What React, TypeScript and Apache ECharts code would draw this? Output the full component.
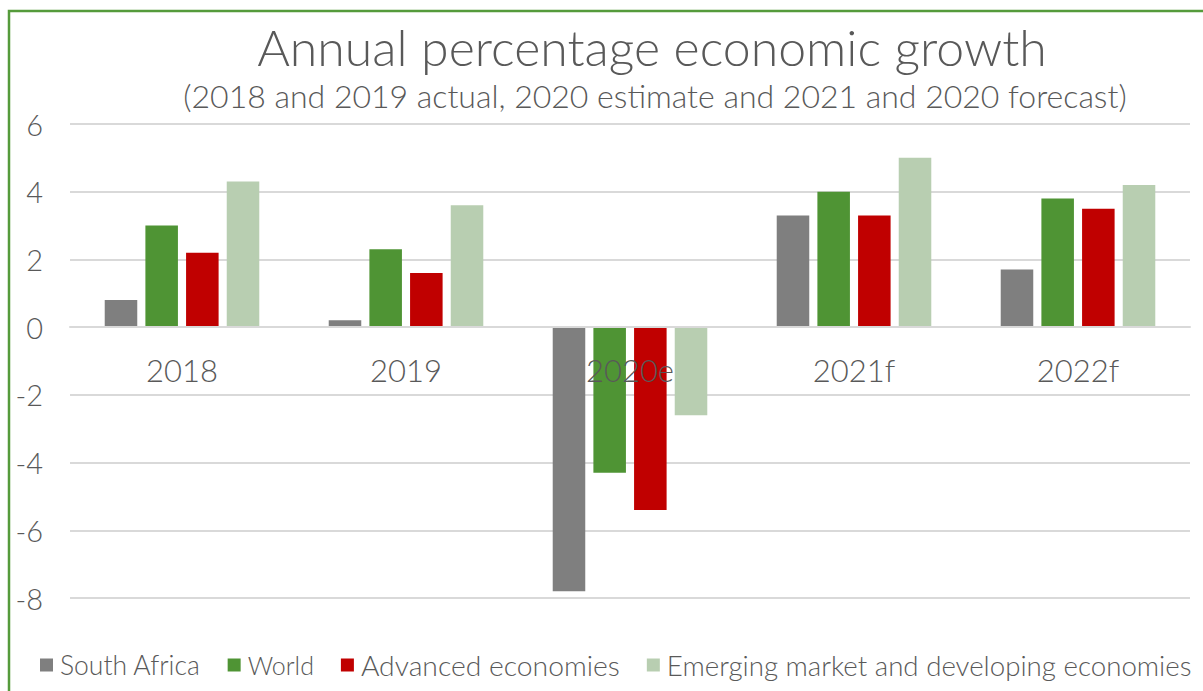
import React, { useEffect, useRef } from "react";
import * as echarts from "echarts";

const categories = ["2018", "2019", "2020e", "2021f", "2022f"];
const southAfrica = [0.8, 0.2, -7.8, 3.3, 1.7];
const world = [3.0, 2.3, -4.3, 4.0, 3.8];
const advanced = [2.2, 1.6, -5.4, 3.3, 3.5];
const emerging = [4.3, 3.6, -2.6, 5.0, 4.2];
const seriesNames = [
  "South Africa",
  "World",
  "Advanced economies",
  "Emerging market and developing economies",
];
const seriesColors = ["#7f7f7f", "#4f9434", "#c00000", "#b8ceb1"];
const legendFontSizes = [26.5, 25, 28.3, 27.7];
const titleText = "Annual percentage economic growth";
const subtitleText =
  "(2018 and 2019 actual, 2020 estimate and 2021 and 2020 forecast)";

const FONT = "Lato";
const TXT = "#595959";

export default function App() {
  const ref = useRef<HTMLDivElement>(null);
  useEffect(() => {
    if (!ref.current) return;
    const chart = echarts.init(ref.current, null, { renderer: "svg" });
    const data = [southAfrica, world, advanced, emerging];
    chart.setOption({
      animation: false,
      backgroundColor: "#ffffff",
      textStyle: { fontFamily: FONT },
      graphic: [
        {
          type: "rect",
          shape: { x: 9, y: 11, width: 1300, height: 800 },
          style: { fill: "none", stroke: "#559b3b", lineWidth: 2.5 },
          silent: true,
        },
        {
          type: "text",
          x: 652,
          y: 47,
          style: {
            text: titleText,
            fontFamily: FONT,
            fontSize: 50,
            fontWeight: 300,
            fill: TXT,
            textAlign: "center",
            textVerticalAlign: "middle",
          },
        },
        {
          type: "text",
          x: 655,
          y: 95,
          style: {
            text: subtitleText,
            fontFamily: FONT,
            fontSize: 32,
            fontWeight: 300,
            fill: TXT,
            textAlign: "center",
            textVerticalAlign: "middle",
          },
        },
      ],
      legend: {
        left: 35,
        top: 646,
        itemWidth: 13,
        itemHeight: 13,
        itemGap: 27,
        icon: "rect",
        textStyle: {
          fontFamily: FONT,
          fontSize: 26.5,
          fontWeight: 300,
          color: TXT,
          padding: [0, 0, 0, 2],
        },
        data: seriesNames.map((name, i) => ({
          name,
          textStyle: { fontSize: legendFontSizes[i] },
        })),
      },
      grid: { left: 70, right: 13, top: 124, bottom: 93, containLabel: false },
      xAxis: {
        type: "category",
        data: categories,
        axisLine: { show: true, onZero: true, lineStyle: { color: "#d9d9d9", width: 2 } },
        axisTick: { show: false },
        axisLabel: {
          fontFamily: FONT,
          fontSize: 31,
          fontWeight: 300,
          color: TXT,
          margin: -244,
        },
        z: 10,
      },
      yAxis: {
        type: "value",
        min: -8,
        max: 6,
        interval: 2,
        axisLine: { show: false },
        axisTick: { show: false },
        splitLine: { lineStyle: { color: "#d9d9d9", width: 2 } },
        axisLabel: {
          fontFamily: FONT,
          fontSize: 29,
          fontWeight: 300,
          color: TXT,
          margin: 27,
        },
      },
      series: seriesNames.map((name, i) => ({
        name,
        type: "bar",
        data: data[i],
        barGap: "25%",
        barCategoryGap: "31%",
        itemStyle: { color: seriesColors[i] },
        z: 2,
      })),
    });
    return () => chart.dispose();
  }, []);
  return (
    <div
      ref={ref}
      style={{ position: "fixed", left: 0, top: 0, width: 1203, height: 691 }}
    />
  );
}
